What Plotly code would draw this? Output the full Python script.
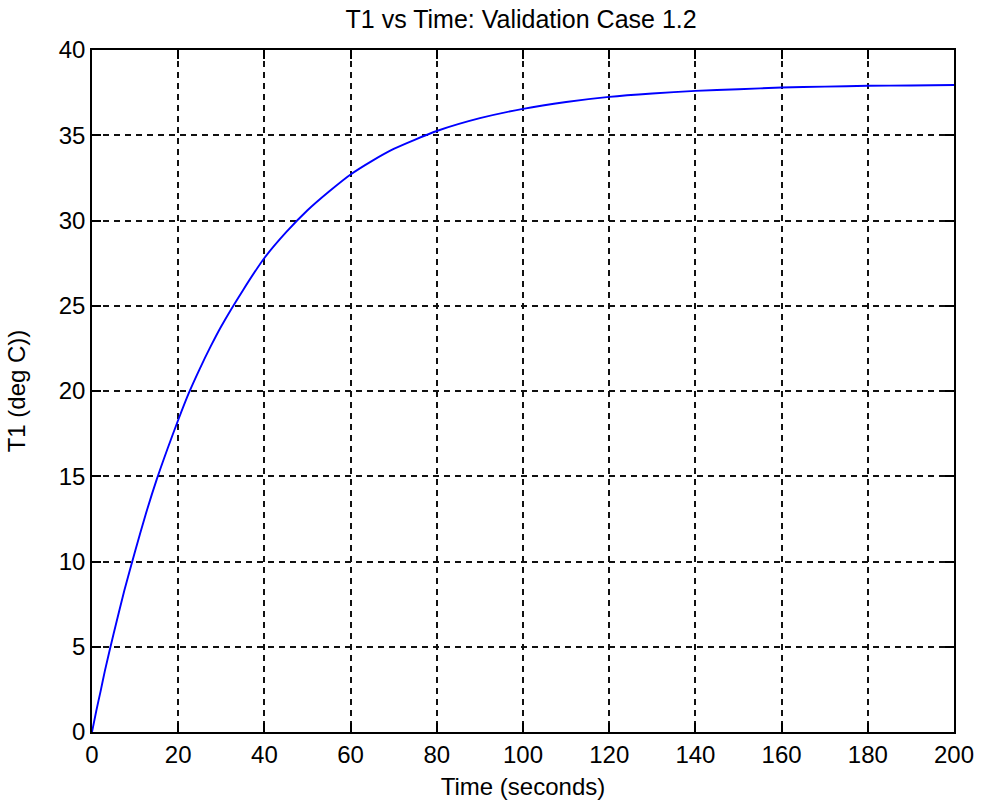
import plotly.graph_objects as go

# Data
time_s = [0, 1, 2, 3, 5, 7.5, 10, 12.5, 15, 17.5, 20, 22.5, 25, 27.5, 30, 35, 40, 45, 50,
          55, 60, 65, 70, 75, 80, 90, 100, 110, 120, 130, 140, 150, 160, 170, 180, 190, 200]
t1_degc = [0.0, 1.25, 2.4, 3.6, 5.75, 8.3, 10.6, 12.8, 14.8, 16.6, 18.3, 19.9, 21.3, 22.6,
           23.8, 25.9, 27.8, 29.3, 30.6, 31.7, 32.7, 33.5, 34.2, 34.75, 35.25, 36.0, 36.55,
           36.95, 37.25, 37.45, 37.6, 37.7, 37.8, 37.85, 37.9, 37.92, 37.95]

x_ticks = [0, 20, 40, 60, 80, 100, 120, 140, 160, 180, 200]
y_ticks = [0, 5, 10, 15, 20, 25, 30, 35, 40]

FONT = "Liberation Sans, Arial, sans-serif"

fig = go.Figure()
fig.add_trace(go.Scatter(
    x=time_s, y=t1_degc, mode="lines",
    line=dict(color="#0000FF", width=1.9, shape="spline", smoothing=0.6),
    showlegend=False,
))

axis_common = dict(
    showline=True, linecolor="black", linewidth=1.6, mirror="ticks",
    ticks="inside", ticklen=9, tickwidth=1.6, tickcolor="black",
    showgrid=True, gridcolor="#111111", gridwidth=1.6, griddash="6px,5px",
    zeroline=False,
    tickfont=dict(family=FONT, size=24, color="black"),
)

fig.update_layout(
    width=986, height=808,
    margin=dict(l=92, r=25, t=50, b=74),
    paper_bgcolor="white", plot_bgcolor="white",
    title=dict(text="T1 vs Time: Validation Case 1.2", x=0.5285, xanchor="center",
               y=1 - 19 / 808, yanchor="middle",
               font=dict(family=FONT, size=25, color="black")),
    xaxis=dict(range=[0, 200], tickvals=x_ticks, ticktext=[str(v) for v in x_ticks],
               title=dict(text="Time (seconds)", standoff=12,
                          font=dict(family=FONT, size=24, color="black")),
               **axis_common),
    yaxis=dict(range=[0, 40], tickvals=y_ticks, ticktext=[str(v) for v in y_ticks],
               title=dict(text="T1 (deg C))", standoff=26,
                          font=dict(family=FONT, size=24, color="black")),
               **axis_common),
)

fig.write_html("out.html")
